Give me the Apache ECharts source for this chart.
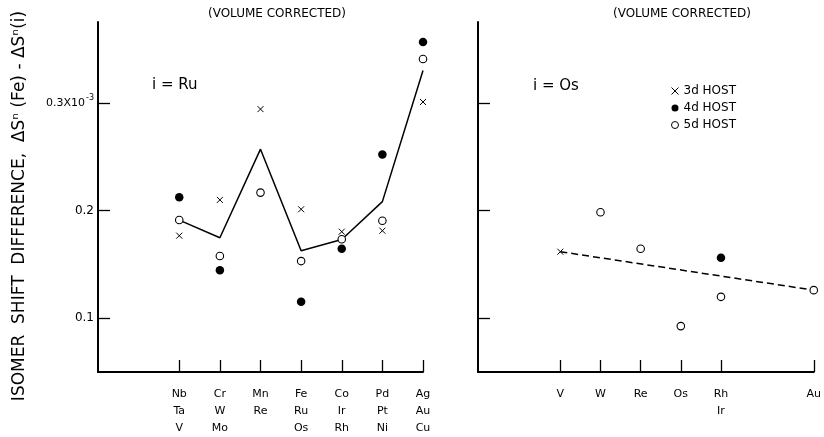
<!DOCTYPE html>
<html>
<head>
<meta charset="utf-8">
<script src="https://cdn.jsdelivr.net/npm/echarts@6/dist/echarts.min.js"></script>
<style>html,body{margin:0;padding:0;background:#fff;}#c{width:824px;height:437px;}</style>
</head>
<body>
<div id="c"></div>
<script>
// ---- data ----
const leftTicks = [0, 1, 2, 3, 4, 5, 6];
const leftLabels = ['Nb\nTa\nV', 'Cr\nW\nMo', 'Mn\nRe', 'Fe\nRu\nOs', 'Co\nIr\nRh', 'Pd\nPt\nNi', 'Ag\nAu\nCu'];
const leftFit = [0.191, 0.1747, 0.2569, 0.1626, 0.173, 0.2082, 0.330];
const left3d = [0.1766, 0.2098, 0.2941, 0.2011, 0.1803, 0.1812, 0.3007];
const left4d = [0.2123, 0.1444, null, 0.1152, 0.1645, 0.2519, 0.3565];
const left5d = [0.1912, 0.1577, 0.2166, 0.153, 0.1732, 0.1905, 0.3407];

const rightTicks = [0, 1, 2, 3, 4, 6.31];
const rightLabels = ['V', 'W', 'Re', 'Os', 'Rh\nIr', 'Au'];
const right3dX = [0];
const right3dY = [0.1617];
const right4dX = [4];
const right4dY = [0.1561];
const right5dX = [1, 2, 3, 4, 6.31];
const right5dY = [0.1983, 0.1645, 0.0926, 0.1198, 0.126];
const rightFitX = [0, 6.31];
const rightFitY = [0.1617, 0.126];

const yTicks = [0.1, 0.2, 0.3];
const yLabels = ['0.1', '0.2', '{m|0.3X10}{s|-3}'];

// ---- helpers ----
const FONT = 'DejaVu Sans';
const INK = '#000';
function pairs(xs, ys) {
  const out = [];
  for (let i = 0; i < xs.length; i++) if (ys[i] != null) out.push([xs[i], ys[i]]);
  return out;
}
function lookup(ticks, labels) {
  return function (v) {
    for (let i = 0; i < ticks.length; i++) if (Math.abs(ticks[i] - v) < 1e-6) return labels[i];
    return '';
  };
}
const crossPath = 'path://M0,0L10,10M10,0L0,10';
const crossStyle = { color: 'transparent', borderColor: INK, borderWidth: 1, opacity: 1 };
const dotStyle = { color: INK, opacity: 1 };
const ringStyle = { color: '#fff', borderColor: INK, borderWidth: 1.1, opacity: 1 };

function xAxisFor(gridIndex, min, max, ticks, labels) {
  return {
    type: 'value', gridIndex, min, max,
    axisLine: { show: true, onZero: false, lineStyle: { color: INK, width: 2 } },
    axisTick: { show: true, inside: true, length: 12, customValues: ticks, lineStyle: { color: INK, width: 1.3 } },
    axisLabel: {
      show: true, customValues: ticks, formatter: lookup(ticks, labels), margin: 13.5,
      fontFamily: FONT, fontSize: 11, lineHeight: 17, color: INK
    },
    splitLine: { show: false }
  };
}
function yAxisFor(gridIndex, showLabels) {
  return {
    type: 'value', gridIndex, min: 0.05, max: 0.375,
    axisLine: { show: true, onZero: false, lineStyle: { color: INK, width: 2 } },
    axisTick: { show: true, inside: true, length: 12, customValues: yTicks, lineStyle: { color: INK, width: 1.3 } },
    axisLabel: {
      show: showLabels, customValues: yTicks, formatter: lookup(yTicks, yLabels), margin: 4,
      fontFamily: FONT, fontSize: 12, color: INK,
      rich: {
        m: { fontFamily: FONT, fontSize: 11, color: INK },
        s: { fontFamily: FONT, fontSize: 8, color: INK, padding: [0, 0, 10, 1] }
      }
    },
    splitLine: { show: false }
  };
}

const chart = echarts.init(document.getElementById('c'), null, { renderer: 'canvas' });
chart.setOption({
  backgroundColor: '#fff',
  animation: false,
  textStyle: { fontFamily: FONT, color: INK },
  grid: [
    { left: 98, width: 325, top: 22, height: 350 },
    { left: 478, width: 339, top: 22, height: 350 }
  ],
  xAxis: [
    xAxisFor(0, -2, 6, leftTicks, leftLabels),
    xAxisFor(1, -2.05, 6.31, rightTicks, rightLabels)
  ],
  yAxis: [yAxisFor(0, true), yAxisFor(1, false)],
  legend: {
    orient: 'vertical', left: 671, top: 85, padding: 0,
    itemWidth: 7, itemHeight: 7, itemGap: 5,
    textStyle: { fontFamily: FONT, fontSize: 12, color: INK },
    data: [
      { name: '3d HOST', itemStyle: { borderWidth: 1 } },
      { name: '4d HOST' },
      { name: '5d HOST', itemStyle: { borderWidth: 1 } }
    ]
  },
  series: [
    { type: 'line', xAxisIndex: 0, yAxisIndex: 0, data: pairs(leftTicks, leftFit), symbol: 'none',
      lineStyle: { color: INK, width: 1.5 }, z: 1 },
    { name: '3d HOST', type: 'scatter', xAxisIndex: 0, yAxisIndex: 0, data: pairs(leftTicks, left3d),
      symbol: crossPath, symbolSize: 6, itemStyle: crossStyle, z: 3 },
    { name: '4d HOST', type: 'scatter', xAxisIndex: 0, yAxisIndex: 0, data: pairs(leftTicks, left4d),
      symbol: 'circle', symbolSize: 8.5, itemStyle: dotStyle, z: 3 },
    { name: '5d HOST', type: 'scatter', xAxisIndex: 0, yAxisIndex: 0, data: pairs(leftTicks, left5d),
      symbol: 'circle', symbolSize: 7.5, itemStyle: ringStyle, z: 3 },

    { type: 'line', xAxisIndex: 1, yAxisIndex: 1, data: pairs(rightFitX, rightFitY), symbol: 'none',
      lineStyle: { color: INK, width: 1.5, type: [7, 4] }, z: 1 },
    { name: '3d HOST', type: 'scatter', xAxisIndex: 1, yAxisIndex: 1, data: pairs(right3dX, right3dY),
      symbol: crossPath, symbolSize: 6, itemStyle: crossStyle, z: 3 },
    { name: '4d HOST', type: 'scatter', xAxisIndex: 1, yAxisIndex: 1, data: pairs(right4dX, right4dY),
      symbol: 'circle', symbolSize: 8.5, itemStyle: dotStyle, z: 3 },
    { name: '5d HOST', type: 'scatter', xAxisIndex: 1, yAxisIndex: 1, data: pairs(right5dX, right5dY),
      symbol: 'circle', symbolSize: 7.5, itemStyle: ringStyle, z: 3 }
  ],
  graphic: [
    { type: 'text', x: 277, y: 14, style: { text: '(VOLUME CORRECTED)', font: '12px "DejaVu Sans"', fill: INK, align: 'center', verticalAlign: 'middle' } },
    { type: 'text', x: 682, y: 14, style: { text: '(VOLUME CORRECTED)', font: '12px "DejaVu Sans"', fill: INK, align: 'center', verticalAlign: 'middle' } },
    { type: 'text', x: 152, y: 85, style: { text: 'i = Ru', font: '15px "DejaVu Sans"', fill: INK, align: 'left', verticalAlign: 'middle' } },
    { type: 'text', x: 533, y: 86, style: { text: 'i = Os', font: '15px "DejaVu Sans"', fill: INK, align: 'left', verticalAlign: 'middle' } },
    { type: 'text', x: 20, y: 206, rotation: Math.PI / 2,
      style: { text: 'ISOMER  SHIFT  DIFFERENCE,  \u0394S\u207F (Fe) - \u0394S\u207F(i)', font: '17px "DejaVu Sans"', fill: INK, align: 'center', verticalAlign: 'middle' } }
  ]
});
</script>
</body>
</html>
